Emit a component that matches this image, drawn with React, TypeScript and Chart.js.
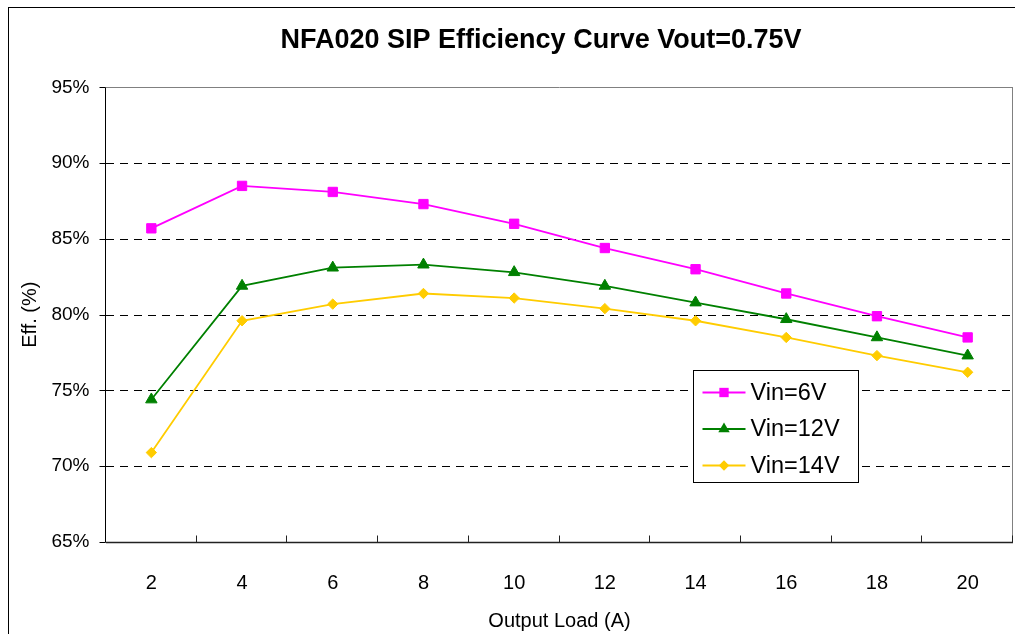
import React, { useEffect, useRef } from 'react';
import { Chart, registerables } from 'chart.js';

Chart.register(...registerables);

const FONT = 'Arial, "Liberation Sans", sans-serif';

const loads = ['2', '4', '6', '8', '10', '12', '14', '16', '18', '20'];
const vin6 = [85.7, 88.5, 88.1, 87.3, 86.0, 84.4, 83.0, 81.4, 79.9, 78.5];
const vin12 = [74.4, 81.9, 83.1, 83.3, 82.8, 81.9, 80.8, 79.7, 78.5, 77.3];
const vin14 = [70.9, 79.6, 80.7, 81.4, 81.1, 80.4, 79.6, 78.5, 77.3, 76.2];
const yTickValues = [65, 70, 75, 80, 85, 90, 95];
const seriesLabels = ['Vin=6V', 'Vin=12V', 'Vin=14V'];
const seriesColors = ['#FF00FF', '#008000', '#FFCC00'];
const seriesStyles = ['rect', 'triangle', 'rectRot'];
const seriesRadii = [6.6, 6.6, 5.2];
const titleText = 'NFA020 SIP Efficiency Curve Vout=0.75V';
const xTitle = 'Output Load (A)';
const yTitle = 'Eff. (%)';

function drawMarker(ctx: CanvasRenderingContext2D, style: string, x: number, y: number, r: number, color: string) {
  ctx.fillStyle = color;
  ctx.beginPath();
  if (style === 'rect') {
    const s = r * Math.SQRT1_2;
    ctx.rect(x - s, y - s, 2 * s, 2 * s);
  } else if (style === 'triangle') {
    ctx.moveTo(x, y - r);
    ctx.lineTo(x + r * 0.866, y + r * 0.5);
    ctx.lineTo(x - r * 0.866, y + r * 0.5);
    ctx.closePath();
  } else {
    ctx.moveTo(x - r, y);
    ctx.lineTo(x, y - r);
    ctx.lineTo(x + r, y);
    ctx.lineTo(x, y + r);
    ctx.closePath();
  }
  ctx.fill();
}

const framePlugin = {
  id: 'framePlugin',
  beforeDatasetsDraw(chart: any) {
    const { ctx, chartArea, scales } = chart;
    const { left, right, top, bottom } = chartArea;
    const x = scales.x;
    const y = scales.y;
    ctx.save();
    ctx.lineWidth = 1;
    y.ticks.forEach((t: any) => {
      const py = Math.round(y.getPixelForValue(t.value)) + 0.5;
      if (t.value === y.max) {
        ctx.setLineDash([]);
        ctx.strokeStyle = '#808080';
      } else if (t.value === y.min) {
        return;
      } else {
        ctx.setLineDash([8, 6]);
        ctx.strokeStyle = '#000';
      }
      ctx.beginPath();
      ctx.moveTo(left, py);
      ctx.lineTo(right, py);
      ctx.stroke();
    });
    ctx.setLineDash([]);
    ctx.strokeStyle = '#808080';
    ctx.beginPath();
    ctx.moveTo(Math.round(right) - 0.5, top);
    ctx.lineTo(Math.round(right) - 0.5, bottom);
    ctx.stroke();
    ctx.strokeStyle = '#000';
    const lx = Math.round(left) - 0.5;
    ctx.beginPath();
    ctx.moveTo(lx, top);
    ctx.lineTo(lx, bottom + 0.5);
    ctx.stroke();
    y.ticks.forEach((t: any) => {
      const py = Math.round(y.getPixelForValue(t.value)) + 0.5;
      ctx.beginPath();
      ctx.moveTo(lx - 6, py);
      ctx.lineTo(lx, py);
      ctx.stroke();
    });
    const by = Math.round(bottom) + 0.5;
    ctx.strokeStyle = '#222';
    ctx.lineWidth = 1.5;
    ctx.beginPath();
    ctx.moveTo(left, by);
    ctx.lineTo(right, by);
    ctx.stroke();
    ctx.lineWidth = 1;
    const p0 = x.getPixelForValue(0);
    const step = x.getPixelForValue(1) - p0;
    for (let i = 1; i <= loads.length; i++) {
      const px = Math.round(p0 + (i - 0.5) * step) - 0.5;
      ctx.beginPath();
      ctx.moveTo(px, by);
      ctx.lineTo(px, by - 7);
      ctx.stroke();
    }
    ctx.restore();
  },
  afterDraw(chart: any) {
    const { ctx, chartArea } = chart;
    const bx = Math.round(chartArea.left + 587) + 0.5;
    const bt = Math.round(chartArea.top + 283) + 0.5;
    const bw = 165;
    const bh = 112;
    ctx.save();
    ctx.fillStyle = '#fff';
    ctx.fillRect(bx, bt, bw, bh);
    ctx.strokeStyle = '#000';
    ctx.lineWidth = 1;
    ctx.strokeRect(bx, bt, bw, bh);
    chart.data.datasets.forEach((ds: any, i: number) => {
      const ry = bt + 22 + i * 36.5;
      ctx.strokeStyle = ds.borderColor;
      ctx.lineWidth = 1.8;
      ctx.beginPath();
      ctx.moveTo(bx + 9, ry);
      ctx.lineTo(bx + 52, ry);
      ctx.stroke();
      drawMarker(ctx, ds.pointStyle, bx + 30.5, ry, ds.pointRadius, ds.borderColor);
      ctx.fillStyle = '#000';
      ctx.font = `23.5px ${FONT}`;
      ctx.textAlign = 'left';
      ctx.textBaseline = 'middle';
      ctx.fillText(ds.label, bx + 57, ry + 1);
    });
    ctx.restore();
  },
};

export default function App() {
  const canvasRef = useRef<HTMLCanvasElement | null>(null);

  useEffect(() => {
    document.documentElement.style.overflow = 'hidden';
    document.body.style.overflow = 'hidden';
    const canvas = canvasRef.current;
    if (!canvas) return;
    Chart.defaults.font.family = FONT;
    Chart.defaults.color = '#000';
    const seriesValues = [vin6, vin12, vin14];
    const chart = new Chart(canvas, {
      type: 'line',
      data: {
        labels: loads,
        datasets: seriesValues.map((vals, i) => ({
          label: seriesLabels[i],
          data: vals,
          borderColor: seriesColors[i],
          backgroundColor: seriesColors[i],
          pointBackgroundColor: seriesColors[i],
          pointBorderColor: seriesColors[i],
          pointBorderWidth: 1,
          pointStyle: seriesStyles[i],
          pointRadius: seriesRadii[i],
          borderWidth: 1.8,
          tension: 0,
          fill: false,
        })),
      },
      plugins: [framePlugin],
      options: {
        responsive: false,
        animation: false,
        layout: { padding: 0 },
        plugins: {
          legend: { display: false },
          tooltip: { enabled: false },
          title: {
            display: true,
            text: titleText,
            color: '#000',
            font: { size: 27, weight: 'bold', family: FONT },
            padding: { top: 16, bottom: 31 },
          },
        },
        scales: {
          x: {
            offset: true,
            grid: { display: false, drawTicks: false },
            border: { display: false },
            ticks: { color: '#000', font: { size: 20 }, padding: 29, maxRotation: 0, autoSkip: false },
            title: { display: true, text: xTitle, color: '#000', font: { size: 20 }, padding: { top: 0, bottom: 1 } },
            afterFit: (s: any) => { s.height = 92; },
          },
          y: {
            min: 65,
            max: 95,
            grid: { display: false, drawTicks: false },
            border: { display: false },
            afterBuildTicks: (s: any) => { s.ticks = yTickValues.map((v) => ({ value: v })); },
            ticks: { color: '#000', font: { size: 19 }, padding: 16.5, callback: (v: any) => `${v}%` },
            title: { display: true, text: yTitle, color: '#000', font: { size: 20 }, padding: { top: 9, bottom: 0 } },
            afterFit: (s: any) => { s.width = 97; },
          },
          yRight: {
            type: 'linear',
            position: 'right',
            display: true,
            grid: { display: false, drawTicks: false },
            border: { display: false },
            ticks: { display: false },
            afterFit: (s: any) => { s.width = 60; },
          },
        },
      } as any,
    });
    return () => chart.destroy();
  }, []);

  return (
    <div
      style={{
        position: 'absolute',
        left: 8,
        top: 7,
        width: 1006,
        height: 627,
        overflow: 'hidden',
        borderLeft: '1px solid #000',
        borderTop: '1px solid #000',
        background: '#fff',
      }}
    >
      <canvas ref={canvasRef} width={1064} height={626} style={{ display: 'block' }} />
    </div>
  );
}
